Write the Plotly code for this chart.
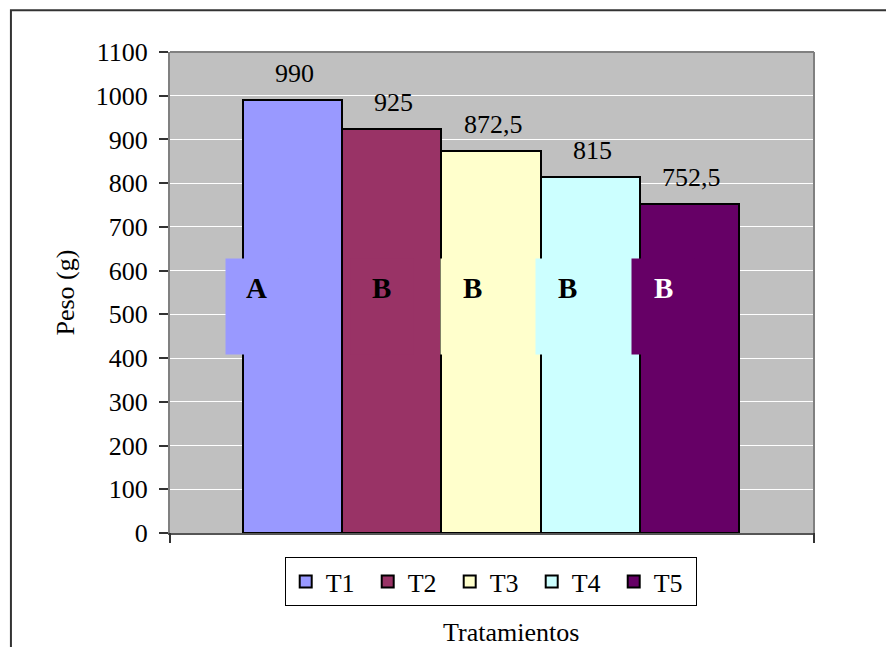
import plotly.graph_objects as go

# ---- data ----
treatments = ["T1", "T2", "T3", "T4", "T5"]
weights = [990, 925, 872.5, 815, 752.5]
letters = ["A", "B", "B", "B", "B"]
colors = ["#9999FF", "#993366", "#FFFFCC", "#CCFFFF", "#660066"]
letter_colors = ["black", "black", "black", "black", "white"]
y_ticks = list(range(0, 1101, 100))

FONT = "Liberation Serif, Times New Roman, serif"

fig = go.Figure()
for name, val, col in zip(treatments, weights, colors):
    fig.add_trace(go.Bar(
        x=[name], y=[val], name=name,
        marker=dict(color=col, line=dict(color="black", width=2)),
        width=1,
    ))

annotations = []
# value labels above the bars
for name, val in zip(treatments, weights):
    annotations.append(dict(
        x=name, y=val, xref="x", yref="y",
        text=f"{val:g}".replace(".", ","),
        showarrow=False, yanchor="bottom", yshift=10, xshift=2,
        font=dict(family=FONT, size=26, color="black"),
    ))

# significance letters with coloured boxes
letter_shift = [-36, -10, -19, -23, -26]
for name, let, col, lc, xs in zip(treatments, letters, colors, letter_colors, letter_shift):
    annotations.append(dict(
        x=name, y=560, xref="x", yref="y", text=" ",
        showarrow=False, width=62, height=95, bgcolor=col,
        xshift=xs, yshift=-18.5, borderpad=0,
        font=dict(family=FONT, size=10),
    ))
    annotations.append(dict(
        x=name, y=560, xref="x", yref="y", text=f"<b>{let}</b>",
        showarrow=False, xshift=xs,
        font=dict(family=FONT, size=29, color=lc),
    ))

# axis titles
annotations.append(dict(
    x=-0.1615, y=0.5, xref="paper", yref="paper", text="Peso (g)",
    textangle=-90, showarrow=False, xanchor="center", yanchor="middle",
    font=dict(family=FONT, size=26, color="black"),
))
annotations.append(dict(
    x=0.53, y=-0.206, xref="paper", yref="paper", text="Tratamientos",
    showarrow=False, xanchor="center", yanchor="middle",
    font=dict(family=FONT, size=26, color="black"),
))

shapes = [
    # outer chart border (clipped at right/bottom)
    dict(type="rect", xref="paper", yref="paper", x0=-0.247, y0=-0.6,
         x1=1.3, y1=1.087, line=dict(color="#333333", width=2), layer="below"),
    # plot area top/right border
    dict(type="line", xref="paper", yref="paper", x0=0, x1=1, y0=1, y1=1,
         line=dict(color="#808080", width=2)),
    dict(type="line", xref="paper", yref="paper", x0=1, x1=1, y0=0, y1=1,
         line=dict(color="#808080", width=2)),
    # x-axis end tick marks
    dict(type="line", xref="paper", yref="paper", x0=0, x1=0,
         ysizemode="pixel", yanchor=0, y0=0, y1=-10,
         line=dict(color="#333333", width=2)),
    dict(type="line", xref="paper", yref="paper", x0=1, x1=1,
         ysizemode="pixel", yanchor=0, y0=0, y1=-10,
         line=dict(color="#333333", width=2)),
]

fig.update_layout(
    width=886, height=647,
    margin=dict(l=170, r=72, t=52, b=114),
    paper_bgcolor="white", plot_bgcolor="#C0C0C0",
    barmode="overlay", bargap=0,
    font=dict(family=FONT, size=26, color="black"),
    showlegend=True,
    legend=dict(
        orientation="h", x=0.498, xanchor="center", y=-0.05, yanchor="top",
        bgcolor="white", bordercolor="black", borderwidth=1,
        font=dict(family=FONT, size=26, color="black"),
        itemsizing="constant", entrywidth=37, entrywidthmode="pixels",
    ),
    xaxis=dict(
        range=[-1.235, 5.255], showticklabels=False, ticks="",
        showgrid=False, showline=True, linecolor="#555555", linewidth=2,
        zeroline=False, fixedrange=True,
    ),
    yaxis=dict(
        range=[0, 1100], tickvals=y_ticks, ticks="outside", ticklen=9,
        tickwidth=2, tickcolor="#333333", ticklabelstandoff=6,
        showgrid=True, gridcolor="white", gridwidth=1,
        showline=True, linecolor="#808080", linewidth=2, zeroline=False,
        tickfont=dict(family=FONT, size=26, color="black"),
    ),
    annotations=annotations,
    shapes=shapes,
)

fig.write_html("out.html")
